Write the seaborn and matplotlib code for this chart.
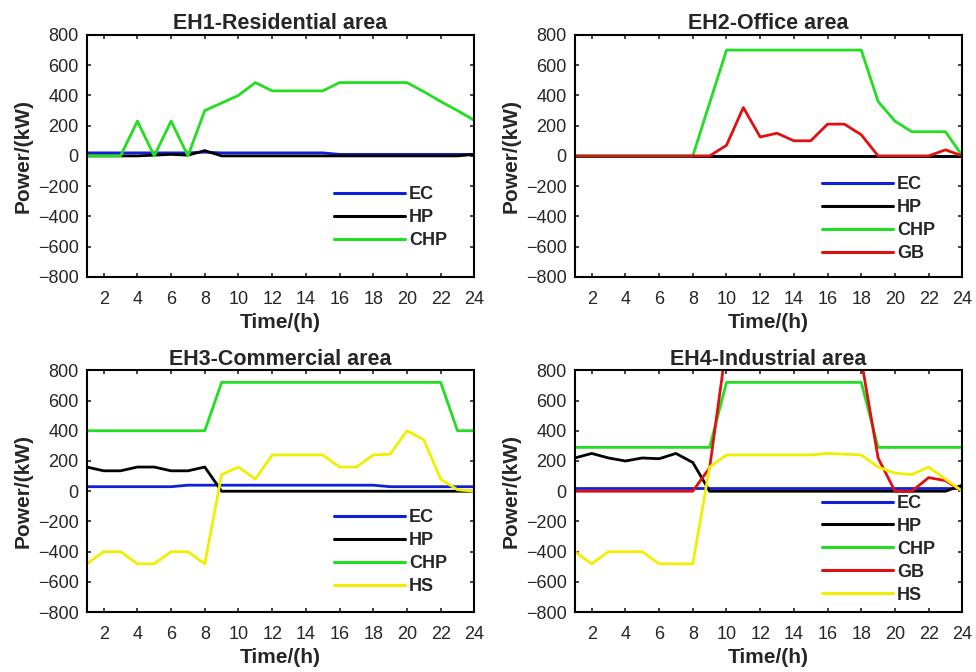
"""
Energy hub unit outputs over 24 h (EH1-EH4)
"""

import pandas as pd
import matplotlib.pyplot as plt
import seaborn as sns

sns.set_style('ticks')
plt.rcParams['font.family'] = ['Liberation Sans', 'DejaVu Sans']

hours = list(range(1, 25))

# EH1 - Residential area
eh1_ec = [20, 20, 20, 20, 20, 20, 20, 25, 20, 20, 20, 20, 20, 20, 20, 10, 10, 10, 10, 10, 10, 10, 10, 10]
eh1_hp = [0, 0, 0, 0, 5, 10, 5, 35, 0, 0, 0, 0, 0, 0, 0, 0, 0, 0, 0, 0, 0, 0, 0, 10]
eh1_chp = [0, 0, 0, 230, 0, 230, 0, 300, 350, 400, 485, 430, 430, 430, 430, 485, 485, 485, 485, 485, 425, 360, 300, 235]

# EH2 - Office area
eh2_ec = [0] * 24
eh2_hp = [0] * 24
eh2_chp = [0, 0, 0, 0, 0, 0, 0, 0, 350, 700, 700, 700, 700, 700, 700, 700, 700, 700, 360, 230, 160, 160, 160, 0]
eh2_gb = [0, 0, 0, 0, 0, 0, 0, 0, 0, 70, 320, 125, 150, 100, 100, 210, 210, 140, 0, 0, 0, 0, 40, 0]

# EH3 - Commercial area
eh3_ec = [30, 30, 30, 30, 30, 30, 40, 40, 40, 40, 40, 40, 40, 40, 40, 40, 40, 40, 30, 30, 30, 30, 30, 30]
eh3_hp = [160, 135, 135, 160, 160, 135, 135, 160, 0, 0, 0, 0, 0, 0, 0, 0, 0, 0, 0, 0, 0, 0, 0, 0]
eh3_chp = [400, 400, 400, 400, 400, 400, 400, 400, 720, 720, 720, 720, 720, 720, 720, 720, 720, 720, 720, 720, 720, 720, 400, 400]
eh3_hs = [-480, -400, -400, -480, -480, -400, -400, -480, 110, 160, 80, 240, 240, 240, 240, 160, 160, 240, 245, 400, 340, 80, 10, 0]

# EH4 - Industrial area
eh4_ec = [20] * 24
eh4_hp = [220, 250, 220, 200, 220, 215, 250, 190, 0, 0, 0, 0, 0, 0, 0, 0, 0, 0, 0, 0, 0, 0, 0, 40]
eh4_chp = [290, 290, 290, 290, 290, 290, 290, 290, 290, 720, 720, 720, 720, 720, 720, 720, 720, 720, 290, 290, 290, 290, 290, 290]
eh4_gb = [0, 0, 0, 0, 0, 0, 0, 0, 155, 970, 1000, 1000, 1000, 1000, 1000, 1000, 1000, 870, 220, 0, 0, 90, 70, 0]
eh4_hs = [-400, -480, -400, -400, -400, -480, -480, -480, 160, 240, 240, 240, 240, 240, 240, 250, 245, 240, 160, 120, 110, 160, 80, 0]

colors = {'EC': '#1020d8', 'HP': '#000000', 'CHP': '#22dd22', 'GB': '#dd1111', 'HS': '#f2ee00'}

panels = [
    ('EH1-Residential area', {'EC': eh1_ec, 'HP': eh1_hp, 'CHP': eh1_chp}),
    ('EH2-Office area', {'EC': eh2_ec, 'HP': eh2_hp, 'CHP': eh2_chp, 'GB': eh2_gb}),
    ('EH3-Commercial area', {'EC': eh3_ec, 'HP': eh3_hp, 'CHP': eh3_chp, 'HS': eh3_hs}),
    ('EH4-Industrial area', {'EC': eh4_ec, 'HP': eh4_hp, 'CHP': eh4_chp, 'GB': eh4_gb, 'HS': eh4_hs}),
]

# axes positions in figure fraction (left, bottom, width, height)
positions = [
    [0.089, 0.588, 0.397, 0.360],
    [0.589, 0.588, 0.397, 0.360],
    [0.089, 0.089, 0.397, 0.360],
    [0.589, 0.089, 0.397, 0.360],
]
# legend upper-left anchors (axes fraction)
legend_anchor = [(0.62, 0.405), (0.62, 0.445), (0.62, 0.455), (0.62, 0.515)]

fig = plt.figure(figsize=(9.76, 6.72), dpi=100)

for i, (title, series) in enumerate(panels):
    ax = fig.add_axes(positions[i])
    df = pd.DataFrame(series, index=hours)
    df.index.name = 'Time'
    long = df.reset_index().melt(id_vars='Time', var_name='Unit', value_name='Power')
    sns.lineplot(data=long, x='Time', y='Power', hue='Unit', palette=colors,
                 hue_order=list(series.keys()), linewidth=2, ax=ax)

    ax.set_xlim(1, 24)
    ax.set_ylim(-800, 800)
    ax.set_xticks(range(2, 25, 2))
    ax.set_yticks(range(-800, 801, 200))
    ax.tick_params(direction='in', length=3, width=1.2, top=True, right=True,
                   labelsize=13, pad=6)
    ax.tick_params(axis='x', pad=10)
    for sp in ax.spines.values():
        sp.set_linewidth(1.5)
        sp.set_color('black')
    ax.set_title(title, fontsize=15.5, fontweight='bold', pad=4)
    ax.set_xlabel('Time/(h)', fontsize=15, fontweight='bold')
    ax.set_ylabel('Power/(kW)', fontsize=15, fontweight='bold')
    ax.xaxis.set_label_coords(0.5, -0.15)
    ax.yaxis.set_label_coords(-0.14, 0.5)

    leg = ax.legend(loc='upper left', bbox_to_anchor=legend_anchor[i], frameon=False,
                    handlelength=3.9, handletextpad=0.25, labelspacing=0.33,
                    borderaxespad=0, prop={'weight': 'bold', 'size': 13})
    for line in leg.get_lines():
        line.set_linewidth(2.2)

fig.savefig('out.png', dpi=100)
